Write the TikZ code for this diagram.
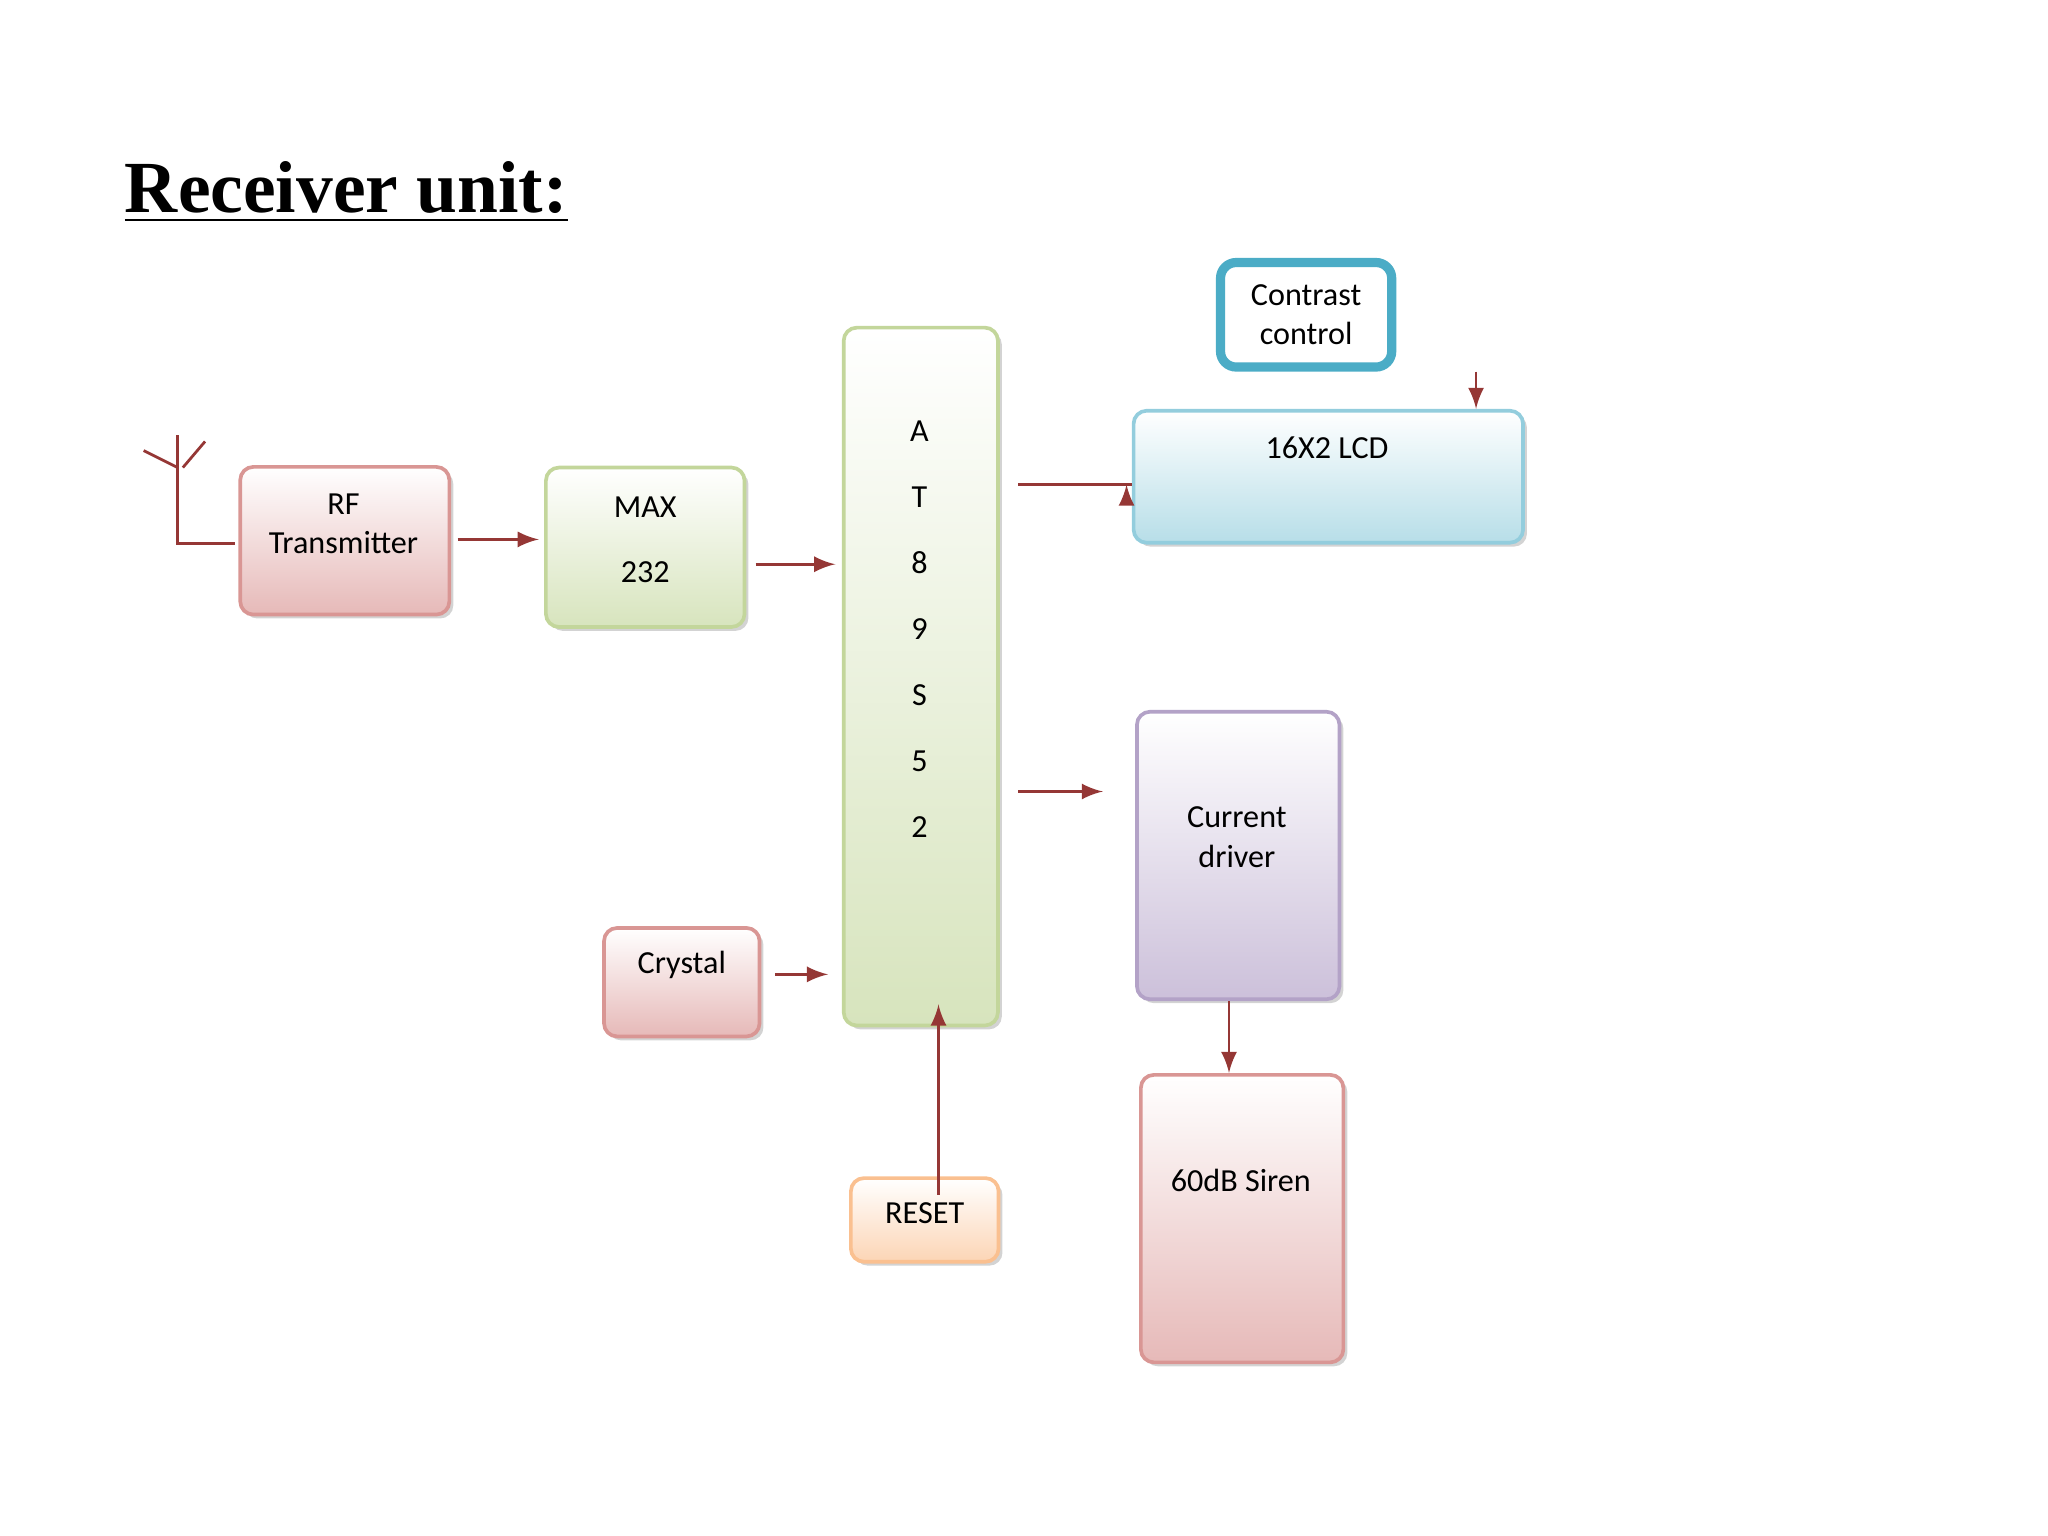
\documentclass[tikz,border=0pt]{standalone}
\usepackage{fontspec}
\setmainfont{Carlito}
\newfontfamily\titlefont{Liberation Serif}
\usetikzlibrary{shadows,calc}
\definecolor{arr}{HTML}{953735}
\definecolor{pinkB}{HTML}{D99694}\definecolor{pinkF}{HTML}{E6B9B8}
\definecolor{greenB}{HTML}{C3D69B}\definecolor{greenF}{HTML}{D7E4BD}
\definecolor{blueB}{HTML}{93CDDD}\definecolor{blueF}{HTML}{B7DEE8}
\definecolor{purB}{HTML}{B3A2C7}\definecolor{purF}{HTML}{CCC0DA}
\definecolor{orB}{HTML}{FAC090}\definecolor{orF}{HTML}{FCD5B5}
\definecolor{ccB}{HTML}{4BACC6}
\tikzset{
 box/.style={draw=#1B, top color=white, bottom color=#1F, rounded corners=0.1cm, line width=0.8pt,
   drop shadow={shadow xshift=0.03cm, shadow yshift=-0.03cm, opacity=0.35, fill=gray},
   align=center, font=\fontsize{7}{8.6}\selectfont, inner sep=0pt},
 a/.style={draw=arr, line width=0.6pt, -{latex}},
 txt/.style={font=\fontsize{7}{8.6}\selectfont, align=center}
}
\begin{document}
\begin{tikzpicture}[x=0.01cm,y=-0.01cm]
\useasboundingbox (0,0) rectangle (1568,1176);
\node[anchor=base west, font=\titlefont\bfseries\fontsize{16}{18}\selectfont, inner sep=0pt] (title) at (95,163) {\underline{Receiver unit:}};
\node[box=pink, minimum width=1.6cm, minimum height=1.13cm] (rf) at (264,414) {};
\node[txt] (rft) at (263,401) {RF\\Transmitter};
\node[box=green, minimum width=1.52cm, minimum height=1.22cm] (max) at (494,419) {};
\node[txt] at (494,388) {MAX};
\node[txt] at (494,438) {232};
\node[box=green, minimum width=1.18cm, minimum height=5.34cm] (at) at (705,518) {};
\foreach \t/\yy in {A/330,T/381,8/431,9/482,S/532,5/583,2/633}
  \node[txt] at (704,\yy) {\t};
\node[draw=ccB, line width=2pt, fill=white, rounded corners=0.12cm, minimum width=1.31cm, minimum height=0.8cm, txt] (cc) at (1000,241) {Contrast\\control};
\node[box=blue, minimum width=2.98cm, minimum height=1.01cm] (lcd) at (1017,365) {};
\node[txt] at (1016,343) {16X2 LCD};
\node[box=pur, minimum width=1.55cm, minimum height=2.2cm] (cd) at (948,655) {};
\node[txt] at (947,641) {Current\\driver};
\node[box=pink, minimum width=1.55cm, minimum height=2.2cm] (siren) at (951,933) {};
\node[txt] at (950,904) {60dB Siren};
\node[box=pink, minimum width=1.19cm, minimum height=0.83cm] (cry) at (522,752) {};
\node[txt] at (522,739) {Crystal};
\node[box=or, minimum width=1.13cm, minimum height=0.64cm] (rst) at (708,934) {};
\node[txt] at (708,929) {RESET};
% antenna
\coordinate (ant) at (136,416);
\draw[arr, line width=0.6pt] (rf.west) ++(-3,2) -- (ant) -- (136,333);
\draw[arr, line width=0.6pt] (136,358) -- (110,345) (140,358) -- (157,338);
% arrows
\draw[a] ([shift={(5,-1)}]rf.east) -- ([shift={(-4,-1)}]rf.east -| max.west);
\draw[a] ([shift={(7,13)}]max.east) -- ([shift={(-5,13)}]max.east -| at.west);
\draw[a] ([xshift=4]at.east |- 0,371) coordinate (p1) -- (p1 -| lcd.west) ++(-4,0);
\draw[a] ([xshift=4]at.east |- 0,606) coordinate (p2) -- ([xshift=-7]p2 -| cd.west);
\draw[a] ([xshift=3]cry.east |- 0,746) coordinate (p3) -- ([xshift=-3]p3 -| at.west);
\draw[a] ([xshift=3,yshift=-4]rst.north) -- ([xshift=3,yshift=5]rst.north |- at.south);
\draw[a] ([xshift=37]cc.south) -- ([xshift=37]cc.south |- lcd.north);
\draw[a] ([xshift=-2]cd.south) -- ([xshift=-2]cd.south |- siren.north);
\end{tikzpicture}
\end{document}
